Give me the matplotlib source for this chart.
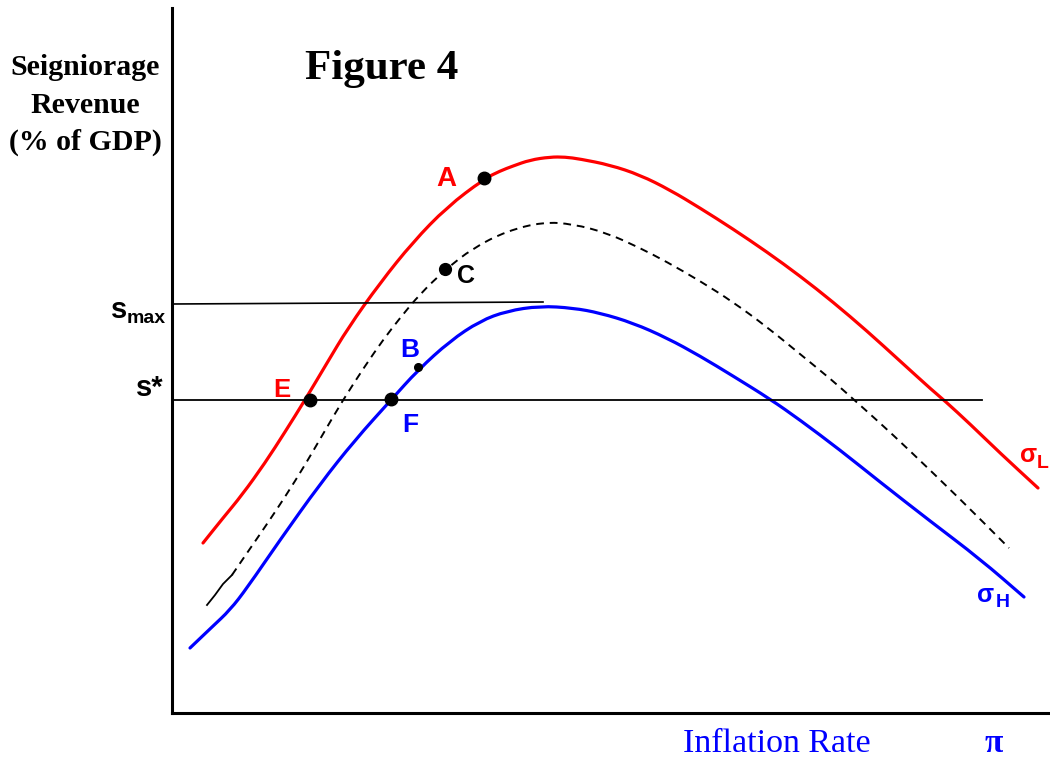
import matplotlib
matplotlib.use('Agg')
import matplotlib.pyplot as plt
from matplotlib.path import Path
from matplotlib.patches import PathPatch

# curve readings (picture units: x to the right, y downward)
red_x = [203, 223, 242, 265, 285, 305, 327, 348, 380, 413, 447, 484, 500, 513, 530,
         550, 565, 580, 610, 640, 670, 700, 733, 767, 800, 833, 867, 900, 933, 945,
         970, 1000, 1038]
red_y = [543, 518, 495, 463, 432, 400, 363, 328, 283, 242, 207, 179, 171, 166, 160,
         157, 157, 159, 165, 175, 190, 208, 229, 252, 276, 302, 331, 361, 391, 401,
         424, 453, 488]

blue_x = [190, 212, 230, 247, 280, 320, 355, 391, 418, 450, 480, 507, 540, 573, 600,
          633, 667, 700, 733, 770, 800, 840, 880, 930, 980, 1024]
blue_y = [648, 627, 610, 588, 540, 484, 440, 400, 370, 341, 321, 311, 306, 308, 313,
          323, 338, 356, 376, 399, 420, 450, 482, 521, 559, 597]

dash_x = [207, 215, 223, 232, 247, 265, 285, 305, 323, 343, 365, 383, 400, 420, 445,
          473, 507, 543, 573, 607, 640, 667, 700, 733, 767, 800, 833, 852, 880, 907,
          960, 1009]
dash_y = [605, 595, 584, 575, 553, 527, 497, 465, 434, 400, 366, 340, 318, 294, 270,
          248, 231, 222, 224, 233, 248, 262, 281, 302, 327, 354, 381, 398, 423, 448,
          499, 548]

smax_x = [172, 543]
smax_y = [304, 302]
sstar_x = [172, 982]
sstar_y = [400, 400]

pt_names = ['A', 'C', 'B', 'E', 'F']
pt_x = [484, 445, 418, 310, 391]
pt_y = [178, 269, 367, 400, 399]
pt_size = [9, 8.5, 5.5, 9, 9]

serif = 'Liberation Serif'
sans = 'Liberation Sans'
red = '#ff0000'
blue = '#0000ff'


def smooth_path(xs, ys):
    # quadratic bezier through midpoints, like a drawn freeform curve
    pts = list(zip(xs, ys))
    verts = [pts[0]]
    codes = [Path.MOVETO]
    mid = lambda a, b: ((a[0] + b[0]) / 2, (a[1] + b[1]) / 2)
    verts.append(mid(pts[0], pts[1]))
    codes.append(Path.LINETO)
    for i in range(1, len(pts) - 1):
        verts += [pts[i], mid(pts[i], pts[i + 1])]
        codes += [Path.CURVE3, Path.CURVE3]
    verts.append(pts[-1])
    codes.append(Path.LINETO)
    return Path(verts, codes)


fig = plt.figure(figsize=(10.5, 7.57), dpi=100)
ax = fig.add_axes([172 / 1050, 44 / 757, (1048 - 172) / 1050, (749 - 44) / 757])
ax.set_xlim(172, 1048)
ax.set_ylim(713, 8)
for side in ['top', 'right']:
    ax.spines[side].set_visible(False)
ax.spines['left'].set_linewidth(2.2)
ax.spines['bottom'].set_linewidth(2.2)
ax.set_xticks([])
ax.set_yticks([])

ax.add_patch(PathPatch(smooth_path(red_x, red_y), fill=False, edgecolor=red,
                       lw=2.3, capstyle='round', clip_on=False))
ax.add_patch(PathPatch(smooth_path(blue_x, blue_y), fill=False, edgecolor=blue,
                       lw=2.3, capstyle='round', clip_on=False))
ax.plot(dash_x[:4], dash_y[:4], color='black', lw=1.3)
ax.add_patch(PathPatch(smooth_path(dash_x[3:], dash_y[3:]), fill=False,
                       edgecolor='black', lw=1.4, linestyle=(0, (4, 3))))
ax.plot(smax_x, smax_y, color='black', lw=1.2)
ax.plot(sstar_x, sstar_y, color='black', lw=1.3)

for x, y, s in zip(pt_x, pt_y, pt_size):
    ax.plot(x, y, 'o', color='black', markersize=s, zorder=5)

# point labels
ax.text(436, 186, 'A', color=red, fontsize=20, fontweight='bold', family=sans, va='baseline')
ax.text(457, 283, 'C', color='black', fontsize=18, fontweight='bold', family=sans, va='baseline')
ax.text(400, 357, 'B', color=blue, fontsize=19, fontweight='bold', family=sans, va='baseline')
ax.text(273, 397, 'E', color=red, fontsize=18.5, fontweight='bold', family=sans, va='baseline')
ax.text(402, 432, 'F', color=blue, fontsize=19, fontweight='bold', family=sans, va='baseline')

# curve labels
ax.text(1020, 462, 'σ', color=red, fontsize=18, fontweight='bold', family=sans, va='baseline')
ax.text(1037, 468, 'L', color=red, fontsize=14, fontweight='bold', family=sans, va='baseline')
ax.text(977, 602, 'σ', color=blue, fontsize=18, fontweight='bold', family=sans, va='baseline')
ax.text(996, 607, 'H', color=blue, fontsize=14, fontweight='bold', family=sans, va='baseline')

# levels on the vertical axis
ax.text(111, 318, 's', fontsize=21, fontweight='bold', family=sans, va='baseline')
ax.text(127, 323, 'max', fontsize=14, fontweight='bold', family=sans, va='baseline')
ax.text(136, 396, 's*', fontsize=21, fontweight='bold', family=sans, va='baseline')

# titles and axis labels
ax.text(305, 79, 'Figure 4', fontsize=31, fontweight='bold', family=serif, va='baseline')
for txt, yb in zip(['Seigniorage', 'Revenue', '(% of GDP)'], [75, 113, 150]):
    ax.text(85, yb, txt, fontsize=21.5, fontweight='bold', family=serif,
            ha='center', va='baseline')
ax.text(683, 752, 'Inflation Rate', color=blue, fontsize=24.5, family=serif, va='baseline')
ax.text(994, 752, 'π', color=blue, fontsize=24, fontweight='bold', family=serif,
        ha='center', va='baseline')

plt.savefig('out.png', dpi=100)
plt.close()
